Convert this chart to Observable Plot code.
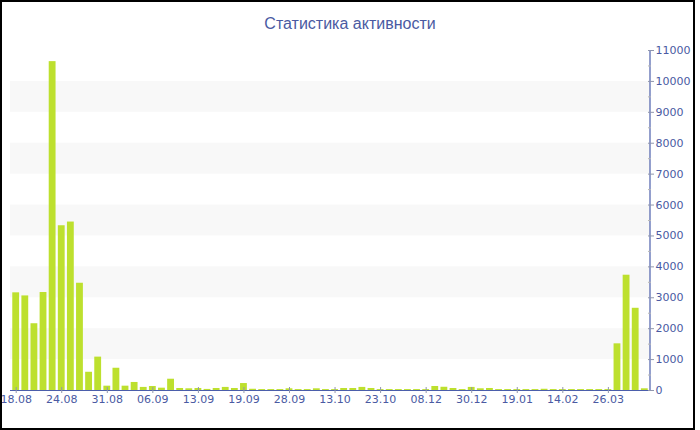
<!DOCTYPE html>
<html>
<head>
<meta charset="utf-8">
<script src="https://cdn.jsdelivr.net/npm/d3@7"></script>
<script src="https://cdn.jsdelivr.net/npm/@observablehq/plot@0.6"></script>
<style>
  body { margin: 0; background: #fff; }
  #wrap { position: relative; width: 700px; height: 430px; overflow: hidden; }
  #border { position: absolute; left: 0; top: 0; width: 695px; height: 430px; box-sizing: border-box; border: 2px solid #000; pointer-events: none; }
  #title { position: absolute; left: 0; top: 15px; width: 700px; text-align: center; font: 16px "Liberation Sans", sans-serif; color: #4a5aa2; }
  #chart { position: absolute; left: 0; top: 40px; }
</style>
</head>
<body>
<div id="wrap">
  <div id="title">Статистика активности</div>
  <div id="chart"></div>
  <div id="border"></div>
</div>
<script>
// Daily activity counts, one per reporting day (oldest first)
const activity = [
  3160, 3060, 2160, 3170, 10640, 5330, 5450, 3470, 590, 1080,
  140, 720, 140, 260, 100, 130, 75, 365, 65, 55,
  65, 35, 65, 100, 65, 225, 40, 30, 30, 30,
  55, 30, 30, 55, 30, 30, 65, 65, 100, 65,
  30, 30, 30, 30, 30, 30, 130, 105, 65, 30,
  100, 55, 65, 30, 30, 30, 30, 30, 40, 30,
  30, 30, 30, 30, 30, 30, 1510, 3730, 2660, 55
];

// Date labels shown under every fifth day
const dateLabels = [
  "18.08", "24.08", "31.08", "06.09", "13.09", "19.09", "28.09",
  "13.10", "23.10", "08.12", "30.12", "19.01", "14.02", "26.03"
];
const labelEvery = 5;

// Value axis
const yMax = 11000;
const yTicks = d3.range(0, yMax + 1, 1000);
const yMinorTicks = d3.range(500, yMax, 1000);
// Shaded horizontal stripes
const stripes = [[1000, 2000], [3000, 4000], [5000, 6000], [7000, 8000], [9000, 10000]];

const textColor = "#4a5aa2";
const axisColor = "#4b5eab";
const tickColor = "#9096ad";
const barColor = "#bde02e";

const days = d3.range(activity.length);

const chart = Plot.plot({
  width: 700,
  height: 390,
  marginTop: 10,
  marginBottom: 40,
  marginLeft: 10,
  marginRight: 50,
  style: { fontFamily: "DejaVu Sans, sans-serif", fontSize: "11px", color: textColor, background: "transparent", overflow: "visible" },
  x: { type: "band", domain: days, padding: 0.25, round: false },
  y: { domain: [0, yMax] },
  marks: [
    Plot.rect(stripes, { y1: d => d[0], y2: d => d[1], fill: "#f8f8f8" }),
    Plot.barY(activity, { x: (d, i) => i, y: d => d, fill: barColor }),
    Plot.ruleY([0], { stroke: axisColor, strokeWidth: 1.2 }),
    // right-hand value axis line
    (index, scales, values, dim) => {
      const x = dim.width - dim.marginRight;
      return d3.create("svg:line")
        .attr("x1", x).attr("x2", x)
        .attr("y1", scales.y(0)).attr("y2", scales.y(yMax))
        .attr("stroke", axisColor).attr("stroke-width", 1.2)
        .node();
    },
    Plot.axisY({ anchor: "right", ticks: yTicks, tickFormat: d => String(d), tickSize: 3, tickPadding: 2, stroke: tickColor, label: null }),
    Plot.axisY({ anchor: "right", ticks: yTicks, tickSize: -3, text: null, stroke: tickColor, label: null }),
    Plot.axisY({ anchor: "right", ticks: yMinorTicks, tickSize: -3, text: null, stroke: "#b8b8b8", label: null }),
    Plot.axisX({
      anchor: "bottom",
      ticks: days.filter(i => i % labelEvery === 0),
      tickFormat: i => dateLabels[i / labelEvery],
      tickSize: 3, tickPadding: 2, stroke: tickColor, label: null
    }),
    Plot.axisX({
      anchor: "bottom",
      ticks: days.filter(i => i % labelEvery === 0),
      tickSize: -3, text: null, stroke: tickColor, label: null
    })
  ]
});

document.getElementById("chart").appendChild(chart);
</script>
</body>
</html>
